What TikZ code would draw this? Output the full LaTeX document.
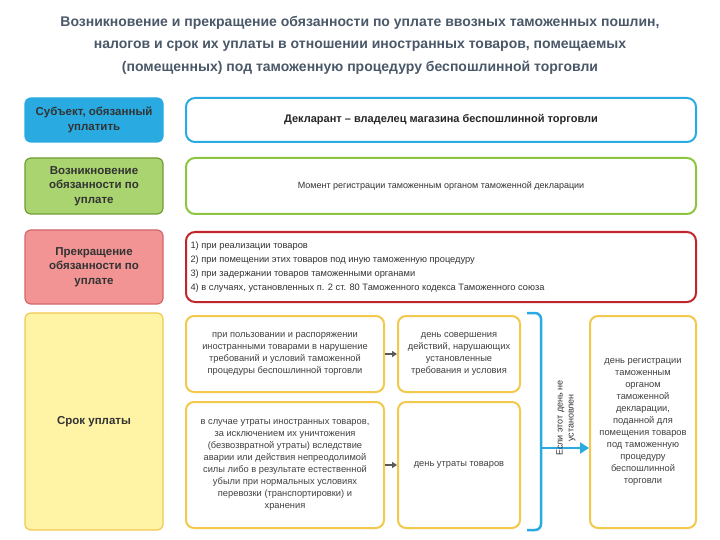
\documentclass[tikz,border=0pt]{standalone}
\usepackage{fontspec}
\setmainfont{Liberation Sans}
\usetikzlibrary{arrows.meta}
\definecolor{tcol}{HTML}{4A5868}
\definecolor{cblue}{HTML}{29ABE2}
\definecolor{cgreen}{HTML}{8CC63F}
\definecolor{lgreen}{HTML}{A9D46F}
\definecolor{cred}{HTML}{C0272D}
\definecolor{lred}{HTML}{F29494}
\definecolor{cyel}{HTML}{F2C94C}
\definecolor{lyel}{HTML}{FFF3A6}
\tikzset{
 lbox/.style={draw=#1,line width=1.2pt,rounded corners=6pt},
 ltext/.style={font=\bfseries\fontsize{11.5}{14.5}\selectfont,text=black!80,align=center},
 rbox/.style={draw=#1,line width=2pt,rounded corners=9pt,fill=white},
 ybox/.style={draw=cyel,line width=2pt,rounded corners=8pt,fill=white,align=center,font=\fontsize{9.3}{12}\selectfont,text=black!75},
 sarr/.style={-{Triangle[length=5pt,width=6pt]},line width=1.5pt,draw=gray!70!black}
}
\begin{document}
\begin{tikzpicture}[x=1pt,y=-1pt]
\useasboundingbox (0,0) rectangle (720,540);
\fill[white] (0,0) rectangle (720,540);
\node[font=\bfseries\fontsize{14}{22.5}\selectfont,text=tcol,align=center] (title) at (360,45)
 {Возникновение и прекращение обязанности по уплате ввозных таможенных пошлин,\\
 налогов и срок их уплаты в отношении иностранных товаров, помещаемых\\
 (помещенных) под таможенную процедуру беспошлинной торговли};
% left column
\draw[lbox=cblue,fill=cblue] (25,98) rectangle (163,142);
\node[ltext] (l1) at (94,120) {Субъект, обязанный\\уплатить};
\draw[lbox=cgreen!80!black,fill=lgreen] (25,158) rectangle (163,214);
\node[ltext] (l2) at (94,186) {Возникновение\\обязанности по\\уплате};
\draw[lbox=cred!70,fill=lred] (25,230) rectangle (163,304);
\node[ltext] (l3) at (94,267) {Прекращение\\обязанности по\\уплате};
\draw[lbox=cyel,fill=lyel] (25,313) rectangle (163,530);
\node[ltext] (l4) at (94,422) {Срок уплаты};
% right boxes
\draw[rbox=cblue] (186,98) rectangle (696,142);
\node[font=\bfseries\fontsize{11}{13}\selectfont,text=black!85] (r1) at (441,120) {Декларант – владелец магазина беспошлинной торговли};
\draw[rbox=cgreen] (186,158) rectangle (696,214);
\node[font=\fontsize{9}{11}\selectfont,text=black!80] (r2) at (441,186) {Момент регистрации таможенным органом таможенной декларации};
\draw[rbox=cred] (186,232) rectangle (696,302);
\node[font=\fontsize{9.3}{14}\selectfont,text=black!80,align=left,anchor=west] (r3) at (187,267)
 {1) при реализации товаров\\2) при помещении этих товаров под иную таможенную процедуру\\3) при задержании товаров таможенными органами\\4) в случаях, установленных п. 2 ст. 80 Таможенного кодекса Таможенного союза};
% bottom
\node[ybox,minimum width=198pt,minimum height=76pt] (a) at (285,354) {при пользовании и распоряжении\\иностранными товарами в нарушение\\требований и условий таможенной\\процедуры беспошлинной торговли};
\node[ybox,minimum width=122pt,minimum height=76pt] (b) at (459,354) {день совершения\\действий, нарушающих\\установленные\\требования и условия};
\node[ybox,minimum width=198pt,minimum height=126pt] (c) at (285,465) {в случае утраты иностранных товаров,\\за исключением их уничтожения\\(безвозвратной утраты) вследствие\\аварии или действия непреодолимой\\силы либо в результате естественной\\убыли при нормальных условиях\\перевозки (транспортировки) и\\хранения};
\node[ybox,minimum width=122pt,minimum height=126pt] (d) at (459,465) {день утраты товаров};
\node[ybox,minimum width=106pt,minimum height=212pt] (e) at (643,422) {день регистрации\\таможенным\\органом\\таможенной\\декларации,\\поданной для\\помещения товаров\\под таможенную\\процедуру\\беспошлинной\\торговли};
\draw[sarr] (a.east) -- (b.west);
\draw[sarr] (c.east) -- (d.west);
\coordinate (bt) at (527,313);
\coordinate (bb) at (527,530);
\coordinate (bm) at (541,448);
\draw[cblue,line width=2.5pt,rounded corners=6pt] (bt) -- (541,313) -- (541,530) -- (bb);
\draw[cblue,line width=2.5pt,-{Triangle[length=9pt,width=11pt]}] (bm) -- (e.west |- bm);
\node[rotate=90,font=\fontsize{9}{11}\selectfont,text=black!80,align=center] (lab) at (566,418) {Если этот день не\\установлен};
\end{tikzpicture}
\end{document}
